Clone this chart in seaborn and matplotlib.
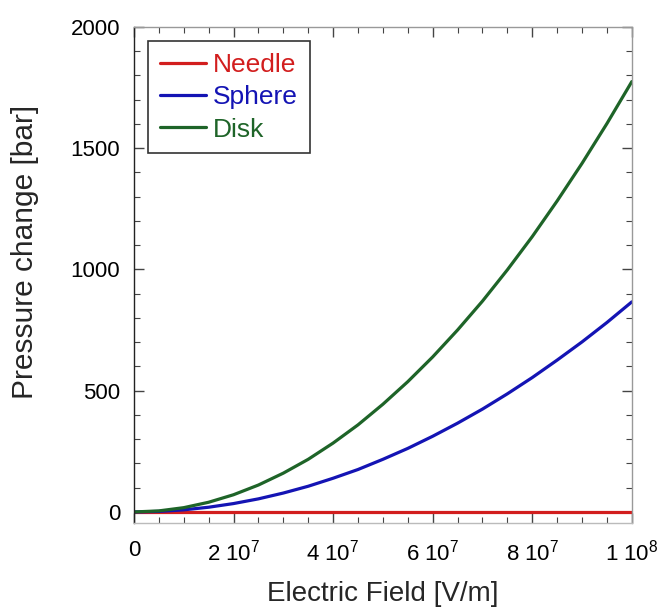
import numpy as np
import pandas as pd
import matplotlib
matplotlib.use("Agg")
import matplotlib.pyplot as plt
import seaborn as sns
from matplotlib.ticker import FixedLocator, MultipleLocator

# field values (V/m), read every 5e6
field = [0, 5e6, 1e7, 1.5e7, 2e7, 2.5e7, 3e7, 3.5e7, 4e7, 4.5e7, 5e7,
         5.5e7, 6e7, 6.5e7, 7e7, 7.5e7, 8e7, 8.5e7, 9e7, 9.5e7, 1e8]
needle = [0, 0, 0, 0, 0, 0, 0, 0, 0, 0, 0,
          0, 0, 0, 0, 0, 0, 0, 0, 0, 0]
sphere = [0, 2.2, 8.7, 19.5, 34.6, 54, 78, 106, 139, 175, 217,
          262, 312, 366, 424, 487, 554, 626, 701, 781, 866]
disk = [0, 4.4, 17.7, 40, 71, 111, 160, 217, 284, 359, 444,
        537, 639, 750, 869, 998, 1135, 1282, 1437, 1601, 1774]

names = ["Needle", "Sphere", "Disk"]
colors = ["#d21e1e", "#1414b4", "#1e6428"]
xticks = [0, 2e7, 4e7, 6e7, 8e7, 1e8]
xticklabels = ["0", "2 10$^{7}$", "4 10$^{7}$", "6 10$^{7}$", "8 10$^{7}$", "1 10$^{8}$"]

df = pd.DataFrame({
    "field": field * 3,
    "value": needle + sphere + disk,
    "shape": ["Needle"] * len(field) + ["Sphere"] * len(field) + ["Disk"] * len(field),
})

sns.set_style("ticks")
plt.rcParams["font.family"] = ["Liberation Sans", "DejaVu Sans"]
plt.rcParams["mathtext.fontset"] = "custom"
plt.rcParams["mathtext.rm"] = "Liberation Sans"
plt.rcParams["mathtext.default"] = "rm"

fig = plt.figure(figsize=(6.63, 6.08), dpi=100)
ax = fig.add_axes([0.202, 0.140, 0.751, 0.816])

sns.lineplot(data=df, x="field", y="value", hue="shape", hue_order=names,
             palette=colors, linewidth=2.3, ax=ax)

ax.set_xlim(0, 1e8)
ax.set_ylim(-45, 2000)
ax.xaxis.set_major_locator(FixedLocator(xticks))
ax.set_xticklabels(xticklabels)
ax.xaxis.set_minor_locator(MultipleLocator(5e6))
ax.yaxis.set_major_locator(MultipleLocator(500))
ax.yaxis.set_minor_locator(MultipleLocator(100))
ax.tick_params(which="both", direction="in", top=True, right=True, labelsize=16,
               colors="#444444", labelcolor="black")
ax.tick_params(axis="x", pad=12)
ax.tick_params(axis="y", pad=10)
ax.tick_params(which="major", length=7, width=1)
ax.tick_params(which="minor", length=4, width=0.8)
for side, s in ax.spines.items():
    s.set_color("#999999")
    s.set_linewidth(1)
ax.spines["left"].set_color("#222222")
ax.spines["bottom"].set_color("#bbbbbb")

ax.set_xlabel("Electric Field [V/m]", fontsize=20, labelpad=11)
ax.set_ylabel("Pressure change [bar]", fontsize=21.5)
ax.yaxis.set_label_coords(-0.19, 0.546)

leg = ax.legend(loc="upper left", fontsize=19, frameon=True, fancybox=False,
                edgecolor="black", handlelength=1.75, handletextpad=0.25,
                labelspacing=0.31, borderaxespad=0.55, borderpad=0.45)
leg.get_frame().set_linewidth(1.2)
for t, c in zip(leg.get_texts(), colors):
    t.set_color(c)

fig.savefig("out.png", dpi=100)
